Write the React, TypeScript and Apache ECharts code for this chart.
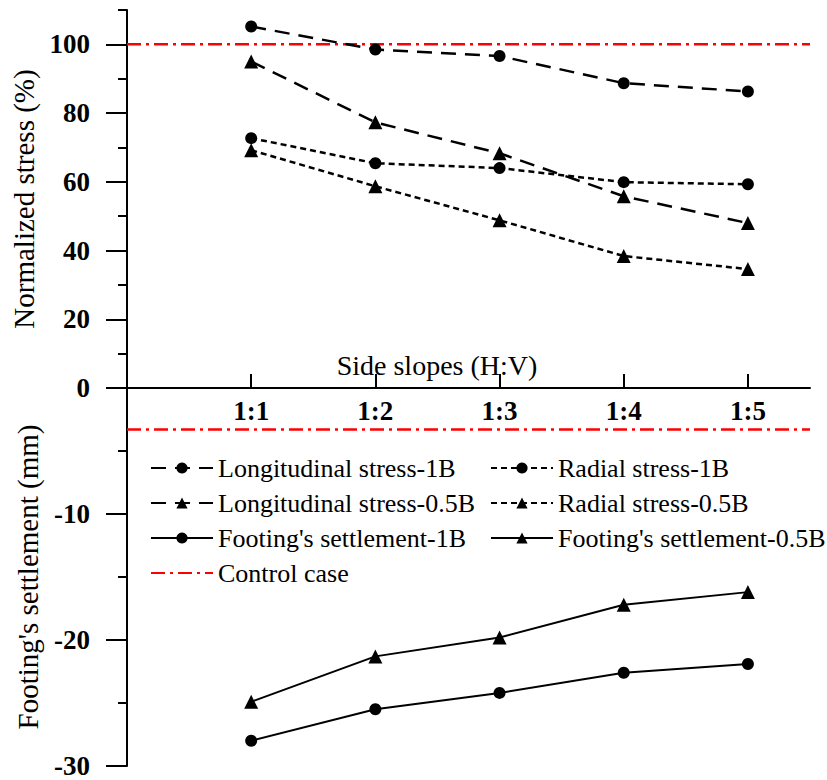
import React, { useEffect, useRef } from "react";
import * as echarts from "echarts";

const categories = ["1:1", "1:2", "1:3", "1:4", "1:5"];
const slopeX = [1, 2, 3, 4, 5];
const longitudinal1B = [105.2, 98.5, 96.6, 88.7, 86.3];
const longitudinal05B = [95.0, 77.3, 68.3, 55.8, 48.0];
const radial1B = [72.7, 65.4, 64.0, 59.9, 59.3];
const radial05B = [69.2, 58.7, 48.8, 38.4, 34.6];
const settlement1B = [-28.0, -25.5, -24.2, -22.6, -21.9];
const settlement05B = [-24.9, -21.3, -19.8, -17.2, -16.2];
const controlStress = 100;
const controlSettlement = -3.3;
const stressTicks = [0, 20, 40, 60, 80, 100];
const settlementTicks = [-30, -20, -10];

const FONT = "'Liberation Serif', 'Times New Roman', Times, serif";

const pairs = (ys: number[]) => slopeX.map((x, i) => [x, ys[i]]);

export default function App() {
  const ref = useRef<HTMLDivElement>(null);
  useEffect(() => {
    document.body.style.margin = "0";
    const chart = echarts.init(ref.current!, null, { renderer: "svg" });
    const black = "#000";
    const red = "#ff0000";
    const longDash = [15, 9];
    const shortDash = [6, 4];
    const dashDot = [14, 5, 3, 5];
    const axisLine = { show: true, onZero: false, lineStyle: { color: black, width: 2 } };
    const tickLabel = { fontFamily: FONT, fontWeight: "bold", fontSize: 27, color: black };
    const nameStyle = { fontFamily: FONT, fontSize: 29, color: black };
    const legendText = { fontFamily: FONT, fontSize: 26, color: black, lineHeight: 26 };
    const lineSeries = (name: string, ys: number[], dash: any, symbol: string, size: number, width: number, grid: number) => ({
      name,
      type: "line",
      xAxisIndex: grid,
      yAxisIndex: grid === 0 ? 0 : 2,
      data: pairs(ys),
      symbol,
      symbolSize: size,
      itemStyle: { color: black },
      lineStyle: { color: black, width, type: dash },
      z: 3,
    });
    chart.setOption({
      animation: false,
      textStyle: { fontFamily: FONT },
      grid: [
        { left: 127, top: 10, width: 683, height: 378 },
        { left: 127, top: 388, width: 683, height: 378 },
      ],
      xAxis: [
        {
          gridIndex: 0,
          type: "value",
          min: 0,
          max: 5.5,
          interval: 1,
          position: "bottom",
          axisLine,
          axisTick: { show: true, inside: true, length: 14, customValues: slopeX, lineStyle: { color: black, width: 2 } },
          axisLabel: {
            ...tickLabel,
            margin: 9,
            customValues: slopeX,
            formatter: (v: number) => categories[Math.round(v) - 1] ?? "",
          },
          splitLine: { show: false },
          name: "Side slopes (H:V)",
          nameLocation: "middle",
          nameGap: -37,
          nameTextStyle: { ...nameStyle, fontSize: 28, padding: [0, 63, 0, 0] },
        },
        { gridIndex: 1, type: "value", min: 0, max: 5.5, show: false },
      ],
      yAxis: [
        {
          gridIndex: 0,
          type: "value",
          position: "left",
          min: 0,
          max: 110,
          interval: 10,
          axisLine,
          axisTick: { show: true, length: 21, customValues: stressTicks, lineStyle: { color: black, width: 2 } },
          axisLabel: { ...tickLabel, margin: 37, customValues: stressTicks },
          splitLine: { show: false },
          name: "Normalized stress (%)",
          nameLocation: "middle",
          nameGap: 85,
          nameTextStyle: nameStyle,
        },
        {
          gridIndex: 0,
          type: "value",
          position: "left",
          min: 0,
          max: 110,
          interval: 10,
          axisLine: { show: false },
          axisTick: { show: true, length: 9, lineStyle: { color: black, width: 2 } },
          axisLabel: { show: false },
          splitLine: { show: false },
        },
        {
          gridIndex: 1,
          type: "value",
          position: "left",
          min: -30,
          max: 0,
          interval: 10,
          axisLine,
          axisTick: { show: true, length: 21, lineStyle: { color: black, width: 2 } },
          minorTick: { show: true, splitNumber: 2, length: 9, lineStyle: { color: black, width: 2 } },
          axisLabel: { ...tickLabel, margin: 37, customValues: settlementTicks },
          splitLine: { show: false },
          name: "Footing's settlement (mm)",
          nameLocation: "middle",
          nameGap: 85,
          nameTextStyle: nameStyle,
        },
      ],
      legend: [
        {
          orient: "vertical",
          left: 150,
          top: 455,
          padding: 0,
          itemWidth: 62,
          itemHeight: 14,
          itemGap: 9,
          textStyle: legendText,
          data: [
            "Longitudinal stress-1B",
            "Longitudinal stress-0.5B",
            "Footing's settlement-1B",
            { name: "Control case", itemStyle: { opacity: 0 } },
          ],
        },
        {
          orient: "vertical",
          left: 490,
          top: 455,
          padding: 0,
          itemWidth: 62,
          itemHeight: 14,
          itemGap: 9,
          textStyle: legendText,
          data: ["Radial stress-1B", "Radial stress-0.5B", "Footing's settlement-0.5B"],
        },
      ],
      series: [
        {
          name: "Control case",
          type: "line",
          xAxisIndex: 0,
          yAxisIndex: 0,
          data: [[0, controlStress], [5.5, controlStress]],
          symbol: "none",
          itemStyle: { color: red },
          lineStyle: { color: red, width: 2.5, type: dashDot },
          z: 2,
        },
        {
          name: "Control case",
          type: "line",
          xAxisIndex: 1,
          yAxisIndex: 2,
          data: [[0, controlSettlement], [5.5, controlSettlement]],
          symbol: "none",
          itemStyle: { color: red },
          lineStyle: { color: red, width: 2.5, type: dashDot },
          z: 2,
        },
        lineSeries("Longitudinal stress-1B", longitudinal1B, longDash, "circle", 12, 2.5, 0),
        lineSeries("Longitudinal stress-0.5B", longitudinal05B, longDash, "triangle", 14, 2.5, 0),
        lineSeries("Radial stress-1B", radial1B, shortDash, "circle", 12, 2.5, 0),
        lineSeries("Radial stress-0.5B", radial05B, shortDash, "triangle", 14, 2.5, 0),
        lineSeries("Footing's settlement-1B", settlement1B, "solid", "circle", 12, 2, 1),
        lineSeries("Footing's settlement-0.5B", settlement05B, "solid", "triangle", 14, 2, 1),
      ],
    });
    return () => chart.dispose();
  }, []);
  return <div ref={ref} style={{ width: 827, height: 780 }} />;
}
